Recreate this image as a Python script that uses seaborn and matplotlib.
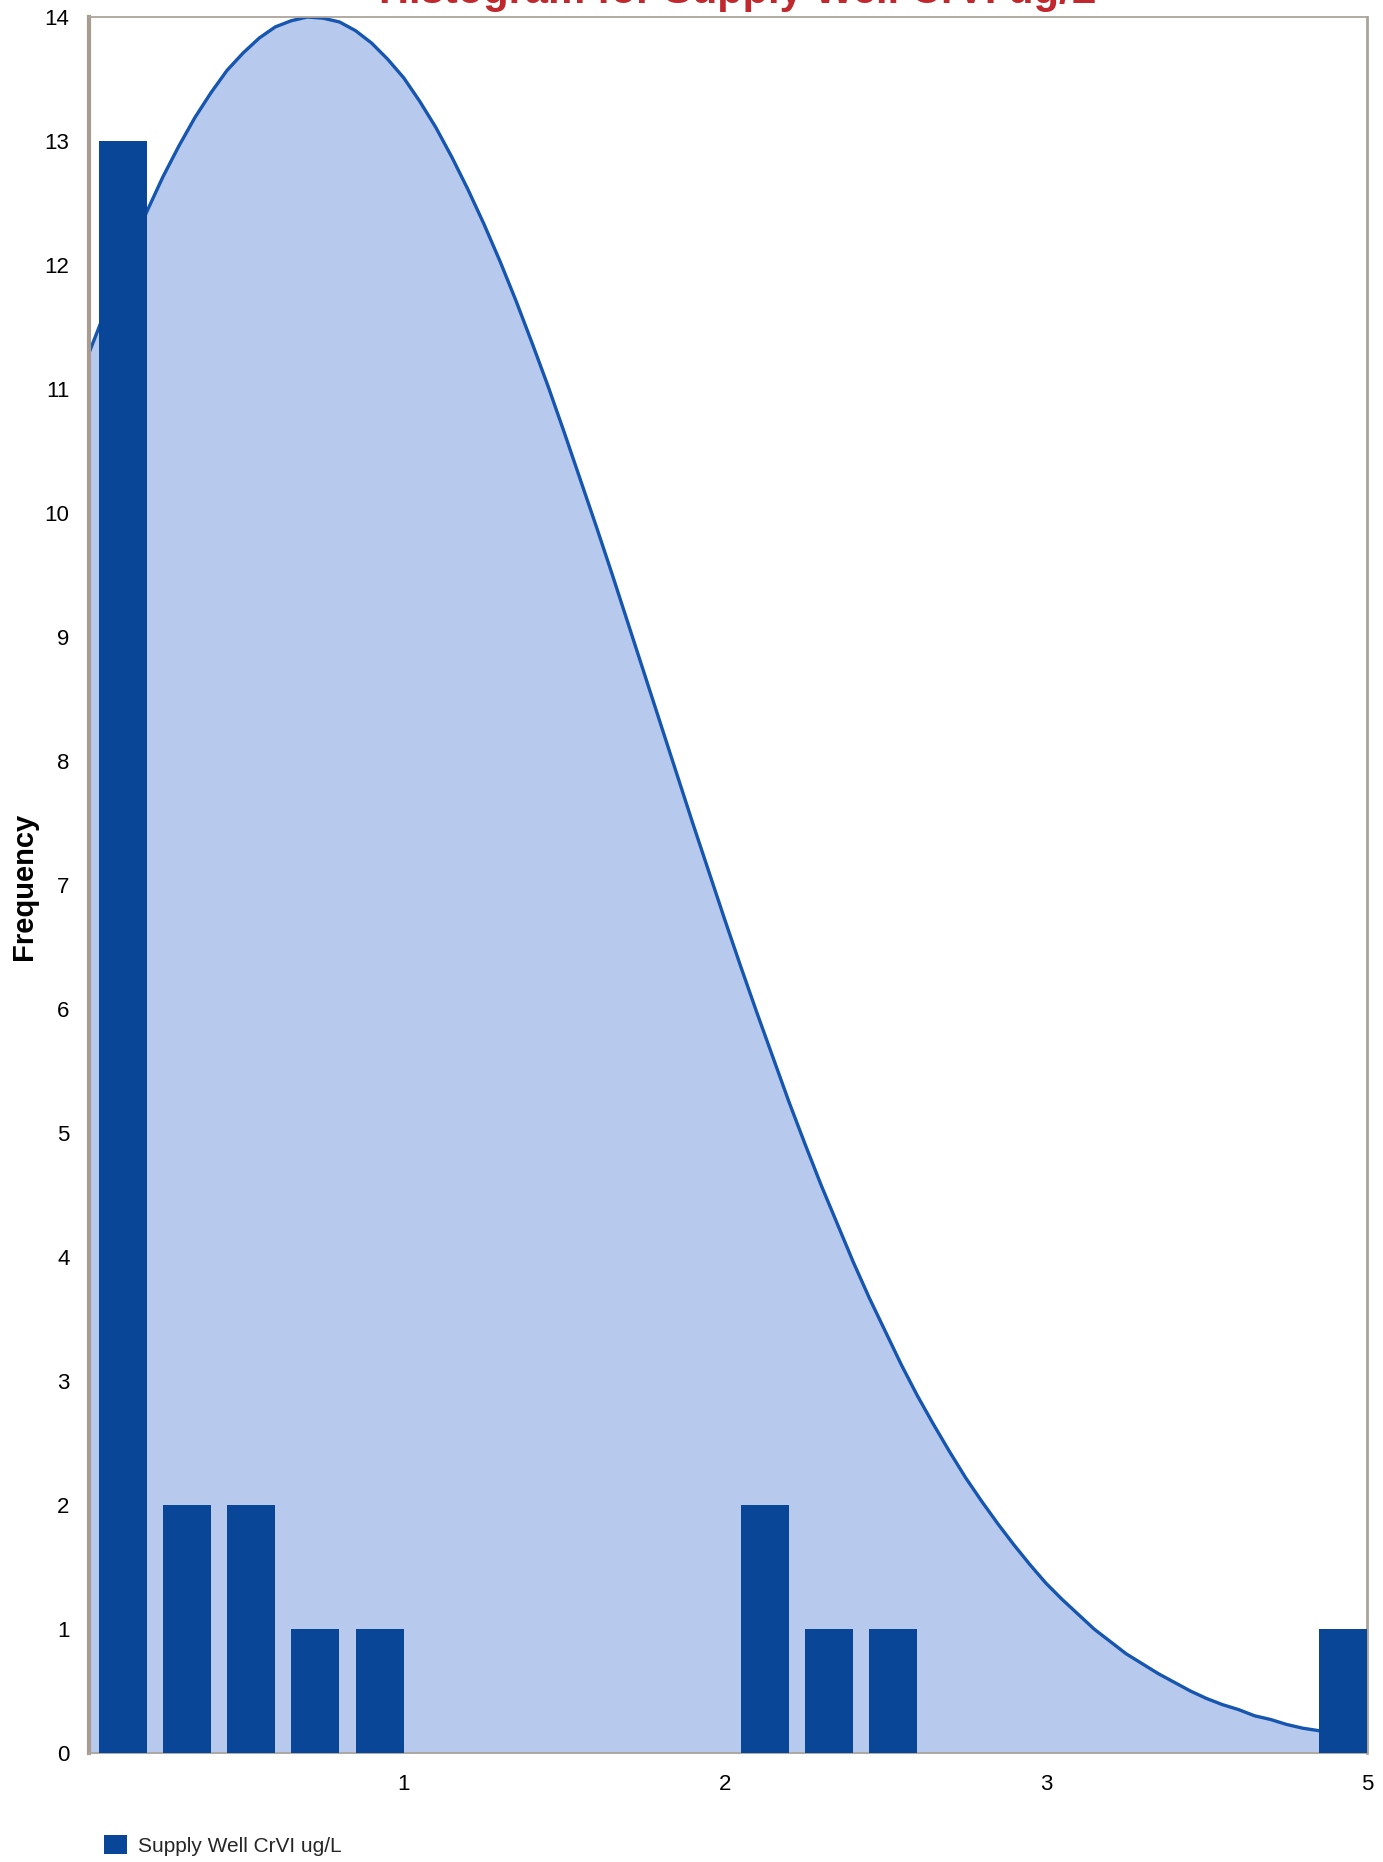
import numpy as np
import pandas as pd
import matplotlib
matplotlib.use("Agg")
import matplotlib.pyplot as plt
from matplotlib.patches import Patch
import seaborn as sns

# ---- data ----
bin_centers = [0.125, 0.325, 0.525, 0.725, 0.925, 2.125, 2.325, 2.525, 3.925]
frequencies = [13, 2, 2, 1, 1, 2, 1, 1, 1]

curve_x = [0.02, 0.05, 0.1, 0.15, 0.2, 0.25, 0.3, 0.35, 0.4, 0.45, 0.5, 0.55,
           0.6, 0.65, 0.7, 0.75, 0.8, 0.85, 0.9, 0.95, 1.0, 1.05, 1.1, 1.15,
           1.2, 1.25, 1.3, 1.35, 1.4, 1.45, 1.5, 1.55, 1.6, 1.65, 1.7, 1.75,
           1.8, 1.85, 1.9, 1.95, 2.0, 2.05, 2.1, 2.15, 2.2, 2.25, 2.3, 2.35,
           2.4, 2.45, 2.5, 2.55, 2.6, 2.65, 2.7, 2.75, 2.8, 2.85, 2.9, 2.95,
           3.0, 3.05, 3.1, 3.15, 3.2, 3.25, 3.3, 3.35, 3.4, 3.45, 3.5, 3.55,
           3.6, 3.65, 3.7, 3.75, 3.8, 3.85, 3.9, 3.95, 4.0]
curve_y = [11.29, 11.49, 11.82, 12.14, 12.43, 12.71, 12.96, 13.19, 13.39, 13.57,
           13.71, 13.83, 13.92, 13.97, 14.00, 13.99, 13.96, 13.89, 13.79, 13.66,
           13.51, 13.32, 13.11, 12.87, 12.61, 12.33, 12.03, 11.71, 11.37, 11.02,
           10.65, 10.27, 9.89, 9.50, 9.10, 8.70, 8.30, 7.90, 7.50, 7.11,
           6.72, 6.34, 5.97, 5.61, 5.25, 4.91, 4.58, 4.27, 3.96, 3.67,
           3.40, 3.13, 2.88, 2.65, 2.43, 2.22, 2.03, 1.85, 1.68, 1.52,
           1.37, 1.24, 1.12, 1.00, 0.90, 0.80, 0.72, 0.64, 0.57, 0.50,
           0.44, 0.39, 0.35, 0.30, 0.27, 0.23, 0.20, 0.18, 0.15, 0.13, 0.12]

x_tick_pos = [1, 2, 3, 4]
x_tick_labels = ["1", "2", "3", "5"]
y_ticks = list(range(0, 15))

title = "Histogram for Supply Well CrVI ug/L"
y_label = "Frequency"
legend_label = "Supply Well CrVI ug/L"

# ---- style ----
sns.set_style("white")
plt.rcParams["font.family"] = ["Liberation Sans", "DejaVu Sans"]

W, H, DPI = 1383, 1862, 100
fig = plt.figure(figsize=(W / DPI, H / DPI), dpi=DPI)
ax = fig.add_axes([89 / W, 1 - 1753 / H, (1367 - 89) / W, (1753 - 17) / H])

bar_color = "#0a4698"
fill_color = "#b8c9ee"
line_color = "#1656ae"

hist_df = pd.DataFrame({"x": bin_centers, "w": frequencies})
curve_df = pd.DataFrame({"x": curve_x, "y": curve_y})

# area under fitted curve
ax.fill_between(curve_df["x"], 0, curve_df["y"], color=fill_color, lw=0, zorder=1)
sns.lineplot(data=curve_df, x="x", y="y", color=line_color, linewidth=2.4,
             ax=ax, zorder=2, solid_joinstyle="round", solid_capstyle="round")

# histogram bars
sns.histplot(data=hist_df, x="x", weights="w", binwidth=0.2,
             binrange=(0.025, 4.025), shrink=0.75, color=bar_color,
             edgecolor="none", alpha=1.0, linewidth=0, ax=ax, zorder=3)

ax.set_xlim(0.02, 4.0)
ax.set_ylim(0, 14)
ax.set_yticks(y_ticks)
ax.set_yticklabels([str(v) for v in y_ticks])
ax.set_xticks(x_tick_pos)
ax.set_xticklabels(x_tick_labels)
ax.set_xlabel("")
ax.set_ylabel("")

ax.tick_params(axis="both", which="major", labelsize=16, labelcolor="#000000",
               color="#a8a199", length=9, width=1.2, direction="out", pad=5)
ax.tick_params(axis="x", length=8, pad=7)

for side, sp in ax.spines.items():
    sp.set_visible(True)
    sp.set_color("#aaa49c")
    sp.set_linewidth(1.3)
ax.spines["left"].set_linewidth(3.0)
ax.spines["left"].set_color("#a89c90")
ax.spines["right"].set_linewidth(2.0)

# y axis title
fig.text(24 / W, 1 - 886 / H, y_label, rotation=90, ha="center", va="center",
         fontsize=21, fontweight="bold", color="#000000")

# title, mostly cut off at the top edge as in the reference
fig.text(738 / W, 1 - 3 / H, title, ha="center", va="baseline",
         fontsize=30, fontweight="bold", color="#c0282d")

# legend
fig.legend(handles=[Patch(facecolor=bar_color, edgecolor="none", label=legend_label)],
           loc="lower left", bbox_to_anchor=(100 / W, 2 / H), frameon=False,
           fontsize=15, handlelength=1.1, handleheight=1.0, handletextpad=0.5,
           borderpad=0.2, borderaxespad=0)

fig.savefig("out.png", dpi=DPI)
